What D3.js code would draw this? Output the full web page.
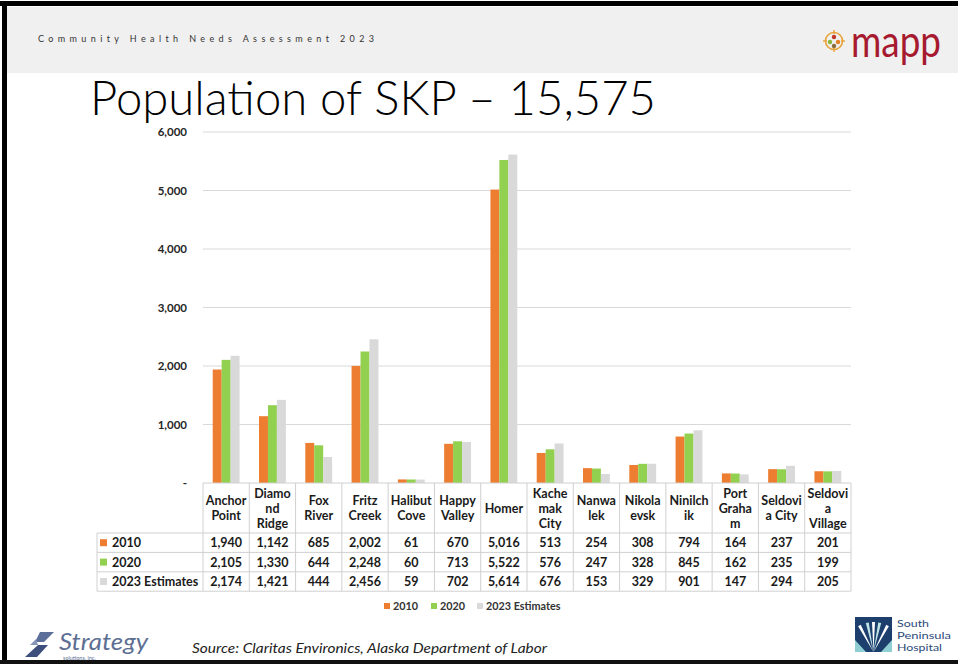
<!DOCTYPE html>
<html>
<head>
<meta charset="utf-8">
<script src="https://cdn.jsdelivr.net/npm/d3@7/dist/d3.min.js"></script>
<style>
  html, body { margin: 0; padding: 0; background: #fff; }
  svg { display: block; font-family: Lato, "Noto Sans", sans-serif; }
</style>
</head>
<body>
<div id="slide"></div>
<script>
// chart data
const categories = ['Anchor Point', 'Diamond Ridge', 'Fox River', 'Fritz Creek', 'Halibut Cove',
  'Happy Valley', 'Homer', 'Kachemak City', 'Nanwalek', 'Nikolaevsk', 'Ninilchik',
  'Port Graham', 'Seldovia City', 'Seldovia Village'];
// how each name is wrapped in the table header
const categoryLines = [['Anchor', 'Point'], ['Diamo', 'nd', 'Ridge'], ['Fox', 'River'], ['Fritz', 'Creek'],
  ['Halibut', 'Cove'], ['Happy', 'Valley'], ['Homer'], ['Kache', 'mak', 'City'], ['Nanwa', 'lek'],
  ['Nikola', 'evsk'], ['Ninilch', 'ik'], ['Port', 'Graha', 'm'], ['Seldovi', 'a City'], ['Seldovi', 'a', 'Village']];
const seriesNames = ['2010', '2020', '2023 Estimates'];
const pop2010 = [1940, 1142, 685, 2002, 61, 670, 5016, 513, 254, 308, 794, 164, 237, 201];
const pop2020 = [2105, 1330, 644, 2248, 60, 713, 5522, 576, 247, 328, 845, 162, 235, 199];
const pop2023 = [2174, 1421, 444, 2456, 59, 702, 5614, 676, 153, 329, 901, 147, 294, 205];
const yTicks = [0, 1000, 2000, 3000, 4000, 5000, 6000];

const colors = {'2010': '#ED7D31', '2020': '#92D050', '2023 Estimates': '#D9D9D9'};
const seriesValues = [pop2010, pop2020, pop2023];

const W = 958, H = 664;
const svg = d3.select('#slide').append('svg').attr('width', W).attr('height', H);

// slide frame + header band
svg.append('rect').attr('x', 7).attr('y', 7).attr('width', W - 7).attr('height', 66).attr('fill', '#f0f0f0');
svg.append('rect').attr('x', 0).attr('y', 1).attr('width', W).attr('height', 5).attr('fill', '#000');
svg.append('rect').attr('x', 2).attr('y', 1).attr('width', 5).attr('height', H).attr('fill', '#000');
svg.append('rect').attr('x', 0).attr('y', 660).attr('width', W).attr('height', 4).attr('fill', '#111');

svg.append('text')
  .attr('x', 38).attr('y', 42)
  .attr('font-size', 9).attr('fill', '#333')
  .attr('textLength', 336).attr('lengthAdjust', 'spacing')
  .text('Community Health Needs Assessment 2023');

// mapp logo
const logo = svg.append('g').attr('transform', 'translate(834,41)');
logo.append('circle').attr('r', 8.5).attr('fill', 'none').attr('stroke', '#E8A33A').attr('stroke-width', 1.6);
[[0, -11, 0, -7], [0, 7, 0, 11], [-11, 0, -7, 0], [7, 0, 11, 0]].forEach(s => {
  logo.append('line').attr('x1', s[0]).attr('y1', s[1]).attr('x2', s[2]).attr('y2', s[3])
    .attr('stroke', '#E8A33A').attr('stroke-width', 1.4);
});
[[0, -4, '#C0392B'], [-4, 1, '#8DB33A'], [4, 1, '#E67E22'], [0, 5, '#8A6D3B']].forEach(d => {
  logo.append('circle').attr('cx', d[0]).attr('cy', d[1]).attr('r', 2.2).attr('fill', d[2]);
});
svg.append('text')
  .attr('x', 851).attr('y', 57)
  .attr('font-size', 44).attr('font-weight', 400).attr('fill', '#A6192E')
  .attr('textLength', 90).attr('lengthAdjust', 'spacingAndGlyphs')
  .text('mapp');

// title
svg.append('text')
  .attr('x', 90).attr('y', 115)
  .attr('font-size', 48).attr('font-weight', 300).attr('fill', '#000')
  .attr('textLength', 566).attr('lengthAdjust', 'spacingAndGlyphs')
  .text('Population of SKP \u2013 15,575');

// scales
const x = d3.scaleBand().domain(categories).range([203, 851]).padding(0);
const bw = x.bandwidth();
const x1 = d3.scaleBand().domain(seriesNames).range([bw * 0.21, bw * 0.79]).padding(0);
const y = d3.scaleLinear().domain([0, 6000]).range([483, 132]);

// gridlines
svg.append('g').selectAll('line').data(yTicks.filter(t => t > 0)).join('line')
  .attr('x1', 203).attr('x2', 851)
  .attr('y1', d => y(d)).attr('y2', d => y(d))
  .attr('stroke', '#d9d9d9').attr('stroke-width', 1);

// y axis
const yAxis = svg.append('g').attr('transform', 'translate(187,0)')
  .call(d3.axisLeft(y).tickValues(yTicks).tickSize(0).tickPadding(0)
    .tickFormat(d => d === 0 ? '-' : d3.format(',')(d)));
yAxis.select('.domain').remove();
yAxis.selectAll('text').attr('font-family', 'Lato, "Noto Sans", sans-serif')
  .attr('font-size', 11.5).attr('font-weight', 700).attr('fill', '#262626');

// bars
const rows = categories.map((c, i) => ({cat: c, vals: seriesNames.map((s, j) => ({s, v: seriesValues[j][i]}))}));
svg.append('g').selectAll('g').data(rows).join('g')
  .attr('transform', d => `translate(${x(d.cat)},0)`)
  .selectAll('rect').data(d => d.vals).join('rect')
  .attr('x', d => x1(d.s)).attr('width', x1.bandwidth())
  .attr('y', d => y(d.v)).attr('height', d => y(0) - y(d.v))
  .attr('fill', d => colors[d.s]);

// data table
const tableTop = 483, headH = 50, rowH = 19.4, labelX = 97;
const tbl = svg.append('g').attr('font-weight', 700).attr('fill', '#1a1a1a');
const lineColor = '#d0d0d0';

// horizontal lines
[0, 1, 2, 3].forEach(k => {
  const yy = tableTop + headH + k * rowH;
  tbl.append('line').attr('x1', labelX).attr('x2', 851).attr('y1', yy).attr('y2', yy)
    .attr('stroke', lineColor);
});
tbl.append('line').attr('x1', 203).attr('x2', 851).attr('y1', tableTop).attr('y2', tableTop)
  .attr('stroke', lineColor);
// vertical lines
categories.concat(['end']).forEach(c => {
  const xx = c === 'end' ? 851 : x(c);
  tbl.append('line').attr('x1', xx).attr('x2', xx)
    .attr('y1', tableTop).attr('y2', tableTop + headH + 3 * rowH).attr('stroke', lineColor);
});
tbl.append('line').attr('x1', labelX).attr('x2', labelX)
  .attr('y1', tableTop + headH).attr('y2', tableTop + headH + 3 * rowH).attr('stroke', lineColor);

// header labels
categories.forEach((c, i) => {
  const lines = categoryLines[i];
  const cy = tableTop + headH / 2;
  const t = tbl.append('text').attr('text-anchor', 'middle').attr('font-size', 12.5)
    .attr('x', x(c) + bw / 2);
  lines.forEach((ln, k) => {
    t.append('tspan').attr('x', x(c) + bw / 2)
      .attr('y', cy + (k - (lines.length - 1) / 2) * 15 + 4.5)
      .text(ln);
  });
});

// series rows
seriesNames.forEach((s, j) => {
  const cy = tableTop + headH + j * rowH + rowH / 2;
  tbl.append('rect').attr('x', 100).attr('y', cy - 3.5).attr('width', 7).attr('height', 7)
    .attr('fill', colors[s]);
  tbl.append('text').attr('x', 112).attr('y', cy + 4.5).attr('font-size', 12.5).text(s);
  tbl.selectAll(null).data(seriesValues[j]).join('text')
    .attr('x', (d, i) => x(categories[i]) + bw / 2).attr('y', cy + 4.5)
    .attr('text-anchor', 'middle').attr('font-size', 12.5)
    .text(d => d3.format(',')(d));
});

// bottom legend
const legend = svg.append('g').attr('font-weight', 700).attr('font-size', 10.8).attr('fill', '#333');
const legendX = [384, 431, 477];
seriesNames.forEach((s, j) => {
  legend.append('rect').attr('x', legendX[j]).attr('y', 603).attr('width', 6).attr('height', 6)
    .attr('fill', colors[s]);
  legend.append('text').attr('x', legendX[j] + 9).attr('y', 610).text(s);
});

// footer: strategy logo
const strat = svg.append('g');
strat.append('path').attr('d', 'M40,632 L54,632 L44,642 L35,642 Z').attr('fill', '#5b6f9a');
strat.append('path').attr('d', 'M38,645 L48,645 L37,657 L25,657 Z').attr('fill', '#3e4f7d');
strat.append('path').attr('d', 'M30,645 L36,639 L38,645 Z').attr('fill', '#8796b8');
strat.append('text').attr('x', 59).attr('y', 650).attr('font-size', 23).attr('font-style', 'italic')
  .attr('fill', '#5d6f93').attr('textLength', 89).attr('lengthAdjust', 'spacingAndGlyphs').text('Strategy');
strat.append('text').attr('x', 63).attr('y', 660).attr('font-size', 5.5).attr('fill', '#5d6f93').text('solutions, inc.');

svg.append('text').attr('x', 192).attr('y', 653).attr('font-size', 13).attr('font-style', 'italic')
  .attr('fill', '#222').attr('textLength', 355).attr('lengthAdjust', 'spacingAndGlyphs')
  .text('Source: Claritas Environics, Alaska Department of Labor');

// footer: hospital logo
const hosp = svg.append('g');
svg.append('clipPath').attr('id', 'hclip')
  .append('rect').attr('x', 855).attr('y', 617).attr('width', 37).attr('height', 35);
hosp.append('rect').attr('x', 855).attr('y', 617).attr('width', 37).attr('height', 35).attr('fill', '#1c3f6e');
const rays = hosp.append('g').attr('clip-path', 'url(#hclip)');
rays.append('path').attr('d', 'M855,640 L866,652 L855,652 Z').attr('fill', '#8fcfd3');
rays.append('path').attr('d', 'M892,640 L881,652 L892,652 Z').attr('fill', '#8fcfd3');
[[-62, '#ffffff'], [-78, '#bfe4e6'], [-102, '#bfe4e6'], [-118, '#ffffff'], [-90, '#ffffff']]
  .forEach(r => {
    const a = r[0] * Math.PI / 180, cx = 873.5, cy = 652;
    const len = 30, w = 0.05;
    const p = [[cx, cy],
      [cx + len * Math.cos(a - w), cy + len * Math.sin(a - w)],
      [cx + len * Math.cos(a + w), cy + len * Math.sin(a + w)]];
    rays.append('path').attr('d', 'M' + p.map(q => q.join(',')).join('L') + 'Z').attr('fill', r[1]);
  });
['South', 'Peninsula', 'Hospital'].forEach((t, k) => {
  hosp.append('text').attr('x', 897).attr('y', 627 + k * 12).attr('font-size', 10)
    .attr('fill', '#2b4a7a').attr('textLength', [32, 54, 45][k]).attr('lengthAdjust', 'spacingAndGlyphs')
    .text(t);
});
</script>
</body>
</html>
